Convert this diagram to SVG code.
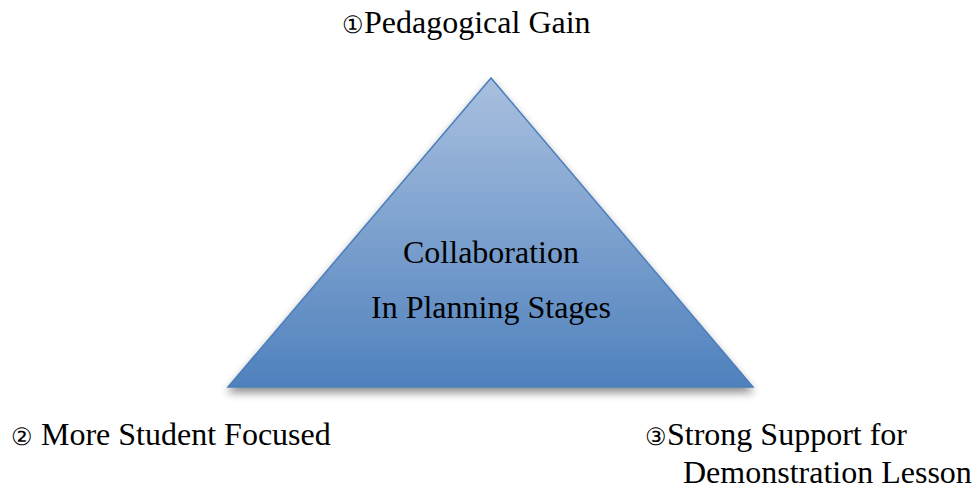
<svg xmlns="http://www.w3.org/2000/svg" width="976" height="490" viewBox="0 0 976 490">
<style>
.t{font-family:"Liberation Serif","Times New Roman",serif;font-size:32px;fill:#000}
.n{font-family:"DejaVu Serif","Liberation Serif",serif;font-size:24px}
</style>
<defs>
<linearGradient id="g" x1="0" y1="0" x2="0" y2="1">
<stop offset="0" stop-color="#a9c0df"/>
<stop offset="1" stop-color="#4f81bd"/>
</linearGradient>
<filter id="sh" x="-10%" y="-10%" width="120%" height="130%">
<feGaussianBlur in="SourceAlpha" stdDeviation="4"/>
<feOffset dx="0" dy="5" result="b"/>
<feComponentTransfer><feFuncA type="linear" slope="0.45"/></feComponentTransfer>
<feMerge><feMergeNode/><feMergeNode in="SourceGraphic"/></feMerge>
</filter>
</defs>
<rect width="976" height="490" fill="#fff"/>
<g id="triangle">
<polygon points="491,78 228,387 753,387" fill="url(#g)" stroke="#4a7ebb" stroke-width="1.5" filter="url(#sh)"/>
<text class="t" x="491" y="263" text-anchor="middle">Collaboration</text>
<text class="t" x="491" y="318" text-anchor="middle">In Planning Stages</text>
</g>
<g id="label1">
<text class="t" x="342" y="33"><tspan class="n">①</tspan>Pedagogical Gain</text>
</g>
<g id="label2">
<text class="t" x="11" y="445"><tspan class="n">②</tspan> More Student Focused</text>
</g>
<g id="label3">
<text class="t" x="645" y="445"><tspan class="n">③</tspan>Strong Support for</text>
<text class="t" x="683" y="483">Demonstration Lesson</text>
</g>
<g id="connectors"></g>
</svg>
